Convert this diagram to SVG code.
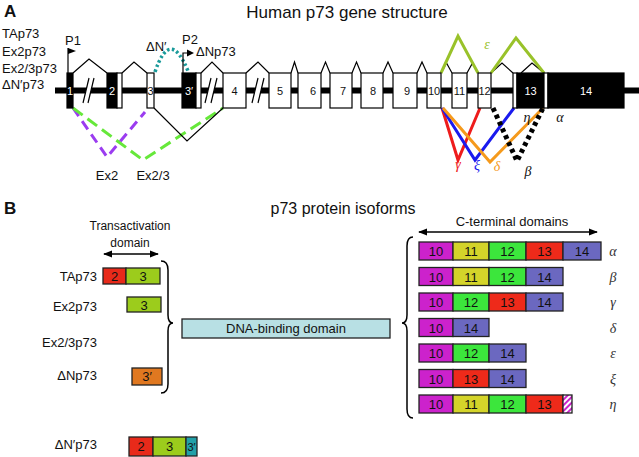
<svg xmlns="http://www.w3.org/2000/svg" width="639" height="457" viewBox="0 0 639 457">
<style>
text{font-family:"Liberation Sans",Arial,sans-serif;fill:#111}
.lbl{font-size:13px}
.ex{stroke:#000;stroke-width:1.2}
.bk{fill:#000}
.wh{fill:#fff}
.et{font-size:11px;text-anchor:middle}
.etw{font-size:11px;text-anchor:middle;fill:#fff}
.gr{font-family:"Liberation Serif","Times New Roman",serif;font-style:italic;font-size:14px;text-anchor:middle}
.intr{fill:none;stroke:#000;stroke-width:1.2}
.pb{stroke:#222;stroke-width:1.3}
.pt{font-size:13px;text-anchor:middle}
</style>
<defs>
<marker id="ah" viewBox="0 0 10 10" refX="9" refY="5" markerWidth="7" markerHeight="7" orient="auto-start-reverse"><path d="M0,1 L10,5 L0,9 z" fill="#000"/></marker>
<pattern id="hatch" width="4" height="4" patternUnits="userSpaceOnUse" patternTransform="rotate(45)"><rect width="4" height="4" fill="#fff"/><rect width="2" height="4" fill="#cc22cc"/></pattern>
</defs>

<!-- Panel A -->
<text x="4" y="17" style="font-size:17px;font-weight:bold">A</text>
<text x="347" y="18" style="font-size:17px;text-anchor:middle">Human p73 gene structure</text>
<g id="isoform-labels-A" class="lbl">
<text x="2" y="38">TAp73</text>
<text x="2" y="56">Ex2p73</text>
<text x="2" y="73">Ex2/3p73</text>
<text x="2" y="89">ΔN′p73</text>
</g>

<g id="backbone">
<rect x="55" y="87.5" width="584" height="6" fill="#000"/>
</g>

<g id="breaks">
<polygon points="83,103 89,78 94,78 88,103" fill="#fff"/>
<line x1="83" y1="103" x2="89" y2="78" stroke="#000" stroke-width="1.2"/>
<line x1="88" y1="103" x2="94" y2="78" stroke="#000" stroke-width="1.2"/>
<polygon points="205,103 211,78 217,78 211,103" fill="#fff"/>
<line x1="205" y1="103" x2="211" y2="78" stroke="#000" stroke-width="1.2"/>
<line x1="211" y1="103" x2="217" y2="78" stroke="#000" stroke-width="1.2"/>
<polygon points="252,103 258,78 264,78 258,103" fill="#fff"/>
<line x1="252" y1="103" x2="258" y2="78" stroke="#000" stroke-width="1.2"/>
<line x1="258" y1="103" x2="264" y2="78" stroke="#000" stroke-width="1.2"/>
</g>

<g id="connectors">
<polyline class="intr" points="73,73 89,59 107,73"/>
<polyline class="intr" points="122,73 134,62 147,73"/>
<polyline class="intr" points="201,73 212,62 223,73"/>
<polyline class="intr" points="246,73 258,62 269,73"/>
<polyline class="intr" points="291,73 294.5,62 298,73"/>
<polyline class="intr" points="321,73 325.5,62 330,73"/>
<polyline class="intr" points="352,73 356.5,62 361,73"/>
<polyline class="intr" points="383,73 388,62 393,73"/>
<polyline class="intr" points="417,73 422,62 427,73"/>
<polyline class="intr" points="441,73 446.5,63 452,73"/>
<polyline class="intr" points="467,73 472.5,63 478,73"/>
<polyline class="intr" points="491,73 502,63 513,73"/>
<polyline class="intr" points="521,73 532,63 544,73"/>
<polyline points="441,73 458,36 478,73" fill="none" stroke="#99c22a" stroke-width="3"/>
<polyline points="491,73 516,38 544,73" fill="none" stroke="#99c22a" stroke-width="3"/>
<path d="M155,72 Q170,27 188,71" fill="none" stroke="#1a9a9a" stroke-width="3.5" stroke-dasharray="2.5,2.5"/>
<line x1="68" y1="73" x2="68" y2="48" stroke="#000" stroke-width="1.2"/>
<polygon points="68,48 76,51 68,54" fill="#000"/>
<polyline points="183,73 183,53 188,53" fill="none" stroke="#000" stroke-width="1.2"/>
<polygon points="187,49.5 194,53 187,56.5" fill="#000"/>
<polyline points="73,108 107,157 145,112" fill="none" stroke="#9b3cf0" stroke-width="3" stroke-dasharray="10,6"/>
<polyline points="73,108 143,160 223,108" fill="none" stroke="#66e83a" stroke-width="3" stroke-dasharray="12,6"/>
<polyline points="154,108 187,141 223,108" fill="none" stroke="#000" stroke-width="1.2"/>
<polyline points="442,108 458,160 480,108" fill="none" stroke="#ee1c1c" stroke-width="3"/>
<polyline points="442,108 475,160 514,108" fill="none" stroke="#1a1aee" stroke-width="3"/>
<polyline points="443,108 490,162 543,108" fill="none" stroke="#f59a1c" stroke-width="3"/>
<polyline points="493,108 517,161 543,108" fill="none" stroke="#000" stroke-width="5" stroke-dasharray="4,3.5"/>
</g>

<g id="exons">
<g id="ex1"><rect class="ex bk" x="67" y="73" width="6" height="35"/><text class="etw" x="70" y="95">1</text></g>
<g id="ex2"><rect class="ex bk" x="107" y="73" width="10" height="35"/><rect class="ex wh" x="117" y="73" width="5" height="35"/><text class="etw" x="112" y="95">2</text></g>
<g id="ex3"><rect class="ex wh" x="147" y="73" width="7" height="35"/><text class="et" x="150.5" y="95">3</text></g>
<g id="ex3p"><rect class="ex bk" x="182" y="73" width="14" height="35"/><rect class="ex wh" x="196" y="73" width="5" height="35"/><text class="etw" x="189" y="95">3′</text></g>
<g id="ex4"><rect class="ex wh" x="223" y="73" width="23" height="35"/><text class="et" x="234.5" y="95">4</text></g>
<g id="ex5"><rect class="ex wh" x="269" y="73" width="22" height="35"/><text class="et" x="280" y="95">5</text></g>
<g id="ex6"><rect class="ex wh" x="298" y="73" width="23" height="35"/><text class="et" x="313" y="95">6</text></g>
<g id="ex7"><rect class="ex wh" x="330" y="73" width="22" height="35"/><text class="et" x="343" y="95">7</text></g>
<g id="ex8"><rect class="ex wh" x="361" y="73" width="22" height="35"/><text class="et" x="373" y="95">8</text></g>
<g id="ex9"><rect class="ex wh" x="393" y="73" width="24" height="35"/><text class="et" x="407" y="95">9</text></g>
<g id="ex10"><rect class="ex wh" x="427" y="73" width="14" height="35"/><text class="et" x="434" y="95">10</text></g>
<g id="ex11"><rect class="ex wh" x="452" y="73" width="15" height="35"/><text class="et" x="459.5" y="95">11</text></g>
<g id="ex12"><rect class="ex wh" x="478" y="73" width="13" height="35"/><text class="et" x="484.5" y="95">12</text></g>
<g id="ex13"><rect class="ex wh" x="513" y="73" width="4" height="35"/><rect class="ex bk" x="517" y="73" width="27" height="35"/><rect class="ex wh" x="544" y="73" width="4" height="35"/><text class="etw" x="530.5" y="95">13</text></g>
<g id="ex14"><rect class="ex bk" x="548" y="73" width="76" height="35"/><text class="etw" x="586" y="95">14</text></g>
</g>

<g id="promoter-labels" class="lbl">
<text x="65" y="45">P1</text>
<text x="182" y="44">P2</text>
<text x="196" y="56">ΔNp73</text>
<text x="146" y="51">ΔN′</text>
<text x="107" y="180" text-anchor="middle">Ex2</text>
<text x="153" y="180" text-anchor="middle">Ex2/3</text>
</g>
<g id="greek-A">
<text class="gr" x="487" y="49" style="fill:#99c22a">ε</text>
<text class="gr" x="458" y="169" style="fill:#ee1c1c">γ</text>
<text class="gr" x="477" y="170" style="fill:#1a1aee">ξ</text>
<text class="gr" x="497" y="171" style="fill:#f59a1c">δ</text>
<text class="gr" x="528" y="176">β</text>
<text class="gr" x="527" y="122">η</text>
<text class="gr" x="560" y="122">α</text>
</g>

<!-- Panel B -->
<text x="4" y="214" style="font-size:17px;font-weight:bold">B</text>
<text x="343" y="214" style="font-size:16px;text-anchor:middle">p73 protein isoforms</text>

<g id="ta-domain">
<text x="130" y="230" style="font-size:12px;text-anchor:middle">Transactivation</text>
<text x="130" y="247" style="font-size:12px;text-anchor:middle">domain</text>
<line x1="104" y1="254" x2="158" y2="254" stroke="#000" stroke-width="1.3" marker-start="url(#ah)" marker-end="url(#ah)"/>
</g>

<g id="n-isoforms" class="lbl">
<g id="TAp73"><text x="97" y="281" text-anchor="end">TAp73</text>
<rect class="pb" x="103" y="268" width="23" height="16" fill="#e82a1a"/><rect class="pb" x="126" y="268" width="34" height="16" fill="#9ccc1c"/>
<text class="pt" x="114.5" y="281">2</text><text class="pt" x="143" y="281">3</text></g>
<g id="Ex2p73"><text x="97" y="311" text-anchor="end">Ex2p73</text>
<rect class="pb" x="127" y="297" width="34" height="15" fill="#9ccc1c"/><text class="pt" x="144" y="309.5">3</text></g>
<g id="Ex23p73"><text x="97" y="347" text-anchor="end">Ex2/3p73</text></g>
<g id="dNp73"><text x="97" y="380" text-anchor="end">ΔNp73</text>
<rect class="pb" x="132" y="368" width="30" height="17" fill="#e07820"/><text class="pt" x="147" y="381">3′</text></g>
<g id="dNpp73"><text x="97" y="449" text-anchor="end">ΔN′p73</text>
<rect class="pb" x="129" y="437" width="24" height="19" fill="#e82a1a"/><rect class="pb" x="153" y="437" width="33" height="19" fill="#9ccc1c"/><rect class="pb" x="186" y="437" width="11" height="19" fill="#22a0a8"/>
<text class="pt" x="141" y="451">2</text><text class="pt" x="169.5" y="451">3</text><text class="pt" x="191.5" y="451" style="font-size:11px">3′</text></g>
</g>

<g id="braces" fill="none" stroke="#000" stroke-width="1.5">
<path d="M161,261 Q168,261 168,270 L168,315 Q168,323 173,323 Q168,323 168,331 L168,384 Q168,393 161,393"/>
<path d="M413,237 Q407,237 407,246 L407,315 Q407,323 402,323 Q407,323 407,331 L407,409 Q407,418 413,418"/>
</g>

<g id="dna-binding">
<rect x="182" y="319" width="208" height="19" fill="#b8e0e4" stroke="#222" stroke-width="1.3"/>
<text class="pt" x="286" y="333">DNA-binding domain</text>
</g>

<g id="c-term">
<text x="512" y="226" style="font-size:13px;text-anchor:middle">C-terminal domains</text>
<line x1="419" y1="232" x2="597" y2="232" stroke="#000" stroke-width="1.3" marker-start="url(#ah)" marker-end="url(#ah)"/>
</g>

<g id="c-isoforms" class="pt">
<g id="alpha">
<rect class="pb" x="419" y="242" width="34" height="18" fill="#cc22cc"/><rect class="pb" x="453" y="242" width="36" height="18" fill="#d4d42a"/><rect class="pb" x="489" y="242" width="37" height="18" fill="#3ce63c"/><rect class="pb" x="526" y="242" width="37" height="18" fill="#ee2a1a"/><rect class="pb" x="563" y="242" width="38" height="18" fill="#6b68c0"/>
<text x="436" y="256">10</text><text x="471" y="256">11</text><text x="507.5" y="256">12</text><text x="544.5" y="256">13</text><text x="582" y="256">14</text>
<text class="gr" x="613" y="256" style="fill:#333">α</text></g>
<g id="beta">
<rect class="pb" x="419" y="267.5" width="34" height="18" fill="#cc22cc"/><rect class="pb" x="453" y="267.5" width="36" height="18" fill="#d4d42a"/><rect class="pb" x="489" y="267.5" width="37" height="18" fill="#3ce63c"/><rect class="pb" x="526" y="267.5" width="37" height="18" fill="#6b68c0"/>
<text x="436" y="281.5">10</text><text x="471" y="281.5">11</text><text x="507.5" y="281.5">12</text><text x="544.5" y="281.5">14</text>
<text class="gr" x="613" y="281.5" style="fill:#333">β</text></g>
<g id="gamma">
<rect class="pb" x="419" y="293" width="34" height="18" fill="#cc22cc"/><rect class="pb" x="453" y="293" width="36" height="18" fill="#3ce63c"/><rect class="pb" x="489" y="293" width="37" height="18" fill="#ee2a1a"/><rect class="pb" x="526" y="293" width="37" height="18" fill="#6b68c0"/>
<text x="436" y="307">10</text><text x="471" y="307">12</text><text x="507.5" y="307">13</text><text x="544.5" y="307">14</text>
<text class="gr" x="613" y="307" style="fill:#333">γ</text></g>
<g id="delta">
<rect class="pb" x="419" y="318.5" width="34" height="18" fill="#cc22cc"/><rect class="pb" x="453" y="318.5" width="36" height="18" fill="#6b68c0"/>
<text x="436" y="332.5">10</text><text x="471" y="332.5">14</text>
<text class="gr" x="613" y="332.5" style="fill:#333">δ</text></g>
<g id="epsilon">
<rect class="pb" x="419" y="344" width="34" height="18" fill="#cc22cc"/><rect class="pb" x="453" y="344" width="36" height="18" fill="#3ce63c"/><rect class="pb" x="489" y="344" width="37" height="18" fill="#6b68c0"/>
<text x="436" y="358">10</text><text x="471" y="358">12</text><text x="507.5" y="358">14</text>
<text class="gr" x="613" y="358" style="fill:#333">ε</text></g>
<g id="xi">
<rect class="pb" x="419" y="369.5" width="34" height="18" fill="#cc22cc"/><rect class="pb" x="453" y="369.5" width="36" height="18" fill="#ee2a1a"/><rect class="pb" x="489" y="369.5" width="37" height="18" fill="#6b68c0"/>
<text x="436" y="383.5">10</text><text x="471" y="383.5">13</text><text x="507.5" y="383.5">14</text>
<text class="gr" x="613" y="383.5" style="fill:#333">ξ</text></g>
<g id="eta">
<rect class="pb" x="419" y="395" width="34" height="18" fill="#cc22cc"/><rect class="pb" x="453" y="395" width="36" height="18" fill="#d4d42a"/><rect class="pb" x="489" y="395" width="37" height="18" fill="#3ce63c"/><rect class="pb" x="526" y="395" width="37" height="18" fill="#ee2a1a"/><rect class="pb" x="563" y="395" width="9" height="18" fill="url(#hatch)"/>
<text x="436" y="409">10</text><text x="471" y="409">11</text><text x="507.5" y="409">12</text><text x="544.5" y="409">13</text>
<text class="gr" x="613" y="409" style="fill:#333">η</text></g>
</g>
</svg>
